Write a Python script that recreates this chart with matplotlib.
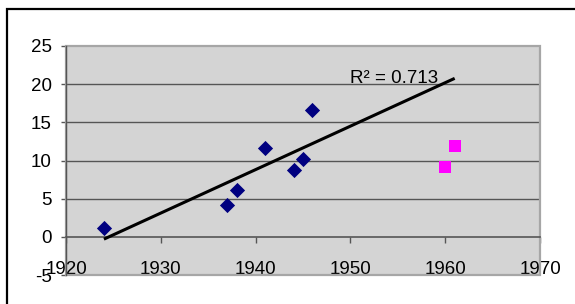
import matplotlib
matplotlib.use("Agg")
import matplotlib.pyplot as plt
import numpy as np
from matplotlib.patches import Rectangle

plt.rcParams["font.family"] = ["Liberation Sans", "DejaVu Sans"]
plt.rcParams["axes.unicode_minus"] = False

# Data
blue_years = [1924, 1937, 1938, 1941, 1944, 1945, 1946]
blue_vals = [1.2, 4.2, 6.1, 11.7, 8.8, 10.2, 16.6]
pink_years = [1960, 1961]
pink_vals = [9.2, 11.9]
trend_span = [1924, 1961]
r2_label = "R² = 0.713"

x_ticks = [1920, 1930, 1940, 1950, 1960, 1970]
y_ticks = [-5, 0, 5, 10, 15, 20, 25]

fig = plt.figure(figsize=(5.75, 3.04), dpi=100)
fig.patch.set_facecolor("white")

# outer chart frame (right/bottom edges fall outside the picture)
fig.patches.append(Rectangle((7 / 575, -0.05), 1.2, 1 - 9 / 304 + 0.05,
                             transform=fig.transFigure, fill=False,
                             edgecolor="black", linewidth=1.6))

ax = fig.add_axes([66 / 575, 29 / 304, (540 - 66) / 575, (275 - 46) / 304])
ax.set_facecolor("#d4d4d4")
ax.set_xlim(1920, 1970)
ax.set_ylim(-5, 25)

for y in [5, 10, 15, 20]:
    ax.axhline(y, color="#555555", linewidth=1.0, zorder=1)

# light plot-area border
ax.add_patch(Rectangle((0, 0), 1, 1, transform=ax.transAxes, fill=False,
                       edgecolor="#a6a6a6", linewidth=1.6, zorder=2, clip_on=False))

for s in ["top", "right"]:
    ax.spines[s].set_visible(False)
ax.spines["left"].set_color("#555555")
ax.spines["left"].set_linewidth(1.0)
ax.spines["bottom"].set_position(("data", 0))
ax.spines["bottom"].set_color("#555555")
ax.spines["bottom"].set_linewidth(1.2)
ax.spines["left"].set_zorder(3)
ax.spines["bottom"].set_zorder(3)

ax.set_xticks(x_ticks)
ax.set_yticks(y_ticks)
ax.tick_params(axis="x", direction="out", length=4.3, width=1.0, color="#555555",
               pad=13.0, labelsize=13.5)
ax.tick_params(axis="y", direction="out", length=3.6, width=1.0, color="#555555",
               pad=6.5, labelsize=13.5)

ax.scatter(blue_years, blue_vals, marker="D", s=60, color="#000080", zorder=4,
           linewidths=0)
ax.scatter(pink_years, pink_vals, marker="s", s=70, color="#ff00ff", zorder=4,
           linewidths=0)

# linear trend fitted to the blue points, extended to 1961
slope, icpt = np.polyfit(blue_years, blue_vals, 1)
tx = np.array(trend_span)
ax.plot(tx, slope * tx + icpt, color="black", linewidth=2.2, zorder=5,
        solid_capstyle="butt")

ax.text(1954.6, 20.2, r2_label, fontsize=13.5, ha="center", va="baseline", zorder=6)

fig.savefig("out.png", dpi=100)
